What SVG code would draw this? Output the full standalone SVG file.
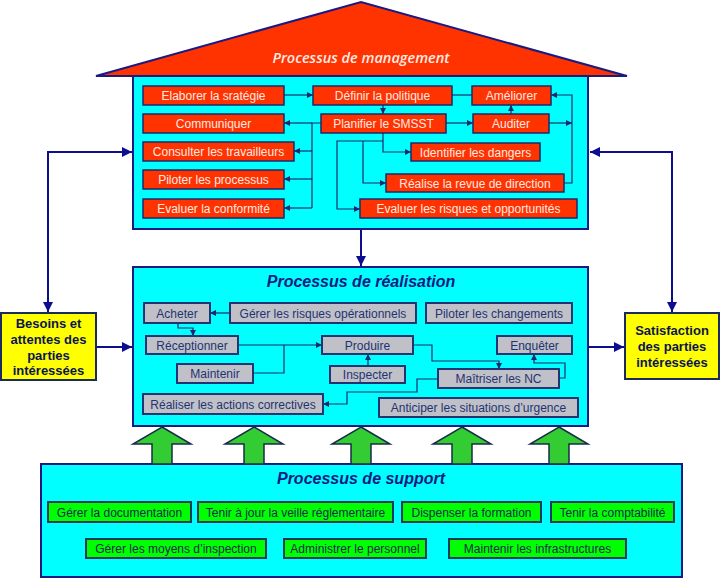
<svg xmlns="http://www.w3.org/2000/svg" width="721" height="579" viewBox="0 0 721 579">
<style>
.frame{fill:#00FFFF;stroke:#1A1A80;stroke-width:2}
.red rect{fill:#FF3300;stroke:#1A2A6A;stroke-width:1.5}
.red text{fill:#FFEAE4;font-family:"Liberation Sans",Arial,sans-serif;font-size:12px;text-anchor:middle}
.gray rect{fill:#C0C0C8;stroke:#1F3470;stroke-width:2}
.gray text{fill:#1F3470;font-family:"Liberation Sans",Arial,sans-serif;font-size:12px;text-anchor:middle}
.green rect{fill:#00FF00;stroke:#1F3A5A;stroke-width:2}
.green text{fill:#1A2A50;font-family:"Liberation Sans",Arial,sans-serif;font-size:12px;text-anchor:middle}
.title{fill:#0D1A80;font-family:"Liberation Sans",Arial,sans-serif;font-size:16px;font-weight:bold;font-style:italic;text-anchor:middle}
.side rect{fill:#FFFF00;stroke:#1A2A5A;stroke-width:2}
.side text{fill:#0A1450;font-family:"Liberation Sans",Arial,sans-serif;font-size:13px;font-weight:bold;text-anchor:middle}
.c{fill:none;stroke:#1A2A6A;stroke-width:1.2}
.cb{fill:none;stroke:#0D0D90;stroke-width:2}
.big{fill:#33CC33;stroke:#1A2A4A;stroke-width:1.5}
</style>
<defs>
<marker id="a" viewBox="0 0 10 10" refX="10" refY="5" markerWidth="6" markerHeight="6" markerUnits="userSpaceOnUse" orient="auto"><path d="M0,0L10,5L0,10z" fill="#1A2A6A"/></marker>
<marker id="b" viewBox="0 0 10 10" refX="10" refY="5" markerWidth="12" markerHeight="10" markerUnits="userSpaceOnUse" orient="auto"><path d="M0,0L10,5L0,10z" fill="#0D0D90"/></marker>
</defs>

<g id="roof">
<polygon points="96,76 361,2 627,76" fill="#FF3300" stroke="#1A1A80" stroke-width="2"/>
<text x="361" y="63" fill="#FFEAE4" font-family="'Open Sans','Liberation Sans',sans-serif" font-size="14.5" font-style="italic" font-weight="600" text-anchor="middle">Processus de management</text>
</g>

<g id="management">
<rect class="frame" x="133" y="76" width="455" height="153"/>
</g>
<g id="realisation">
<rect class="frame" x="133" y="267" width="455" height="159"/>
<text class="title" x="361" y="287">Processus de réalisation</text>
</g>
<g id="support">
<rect class="frame" x="41" y="464" width="641" height="113"/>
<text class="title" x="361" y="484">Processus de support</text>
</g>

<g id="connectors">
<!-- management -->
<path class="c" d="M284,95H313" marker-end="url(#a)"/>
<path class="c" d="M383,105V114" marker-end="url(#a)"/>
<path class="c" d="M452,95H472"/>
<path class="c" d="M321,123H312V208"/>
<path class="c" d="M312,123H284" marker-end="url(#a)"/>
<path class="c" d="M312,151H294" marker-end="url(#a)"/>
<path class="c" d="M312,179H284" marker-end="url(#a)"/>
<path class="c" d="M312,208H284" marker-end="url(#a)"/>
<path class="c" d="M446,123H473" marker-end="url(#a)"/>
<path class="c" d="M511,114V105" marker-end="url(#a)"/>
<path class="c" d="M549,123H572" marker-end="url(#a)"/>
<path class="c" d="M564,183H572V95H551" marker-end="url(#a)"/>
<path class="c" d="M383,133V152H411" marker-end="url(#a)"/>
<path class="c" d="M383,141H337V209H360" marker-end="url(#a)"/>
<path class="c" d="M363,141V183H386" marker-end="url(#a)"/>
<!-- management to realisation -->
<path class="cb" d="M361,230V266" marker-end="url(#b)"/>
<!-- side -->
<path class="cb" d="M96,347H132" marker-end="url(#b)"/>
<path class="cb" d="M588,347H624" marker-end="url(#b)"/>
<path class="cb" d="M48,200V152H132" marker-end="url(#b)"/>
<path class="cb" d="M48,200V312" marker-end="url(#b)"/>
<path class="cb" d="M672,200V152H590" marker-end="url(#b)"/>
<path class="cb" d="M672,200V312" marker-end="url(#b)"/>
<!-- realisation -->
<path class="c" d="M230,313H210" marker-end="url(#a)"/>
<path class="c" d="M178,323V328H193V336" marker-end="url(#a)"/>
<path class="c" d="M238,345H322" marker-end="url(#a)"/>
<path class="c" d="M253,373H284V345"/>
<path class="c" d="M368,366V354" marker-end="url(#a)"/>
<path class="c" d="M413,345H432V361H499V369" marker-end="url(#a)"/>
<path class="c" d="M559,378H565V363H534V354" marker-end="url(#a)"/>
<path class="c" d="M438,379H417V392H347V404H323" marker-end="url(#a)"/>
</g>

<g id="support-arrows">
<polygon class="big" points="162,427 191,444 172,444 172,464 152,464 152,444 133,444"/>
<polygon class="big" points="254,427 283,444 264,444 264,464 244,464 244,444 225,444"/>
<polygon class="big" points="361,427 390,444 371,444 371,464 351,464 351,444 332,444"/>
<polygon class="big" points="462,427 491,444 472,444 472,464 452,464 452,444 433,444"/>
<polygon class="big" points="559,427 588,444 569,444 569,464 549,464 549,444 530,444"/>
</g>

<g id="m1" class="red"><rect x="143" y="86" width="141" height="19"/><text x="213.5" y="100">Elaborer la sratégie</text></g>
<g id="m2" class="red"><rect x="313" y="86" width="139" height="19"/><text x="382.5" y="100">Définir la politique</text></g>
<g id="m3" class="red"><rect x="472" y="86" width="79" height="19"/><text x="511.5" y="100">Améliorer</text></g>
<g id="m4" class="red"><rect x="143" y="114" width="141" height="19"/><text x="213.5" y="128">Communiquer</text></g>
<g id="m5" class="red"><rect x="321" y="114" width="125" height="19"/><text x="383.5" y="128">Planifier le SMSST</text></g>
<g id="m6" class="red"><rect x="473" y="114" width="76" height="19"/><text x="511" y="128">Auditer</text></g>
<g id="m7" class="red"><rect x="143" y="142" width="151" height="19"/><text x="218.5" y="156">Consulter les travailleurs</text></g>
<g id="m8" class="red"><rect x="411" y="143" width="129" height="18"/><text x="475.5" y="156.5">Identifier les dangers</text></g>
<g id="m9" class="red"><rect x="143" y="170" width="141" height="19"/><text x="213.5" y="184">Piloter les processus</text></g>
<g id="m10" class="red"><rect x="386" y="174" width="178" height="18"/><text x="475" y="187.5">Réalise la revue de direction</text></g>
<g id="m11" class="red"><rect x="143" y="199" width="141" height="19"/><text x="213.5" y="213">Evaluer la conformité</text></g>
<g id="m12" class="red"><rect x="360" y="199" width="217" height="19"/><text x="468.5" y="213">Evaluer les risques et opportunités</text></g>

<g id="r1" class="gray"><rect x="144" y="303" width="66" height="20"/><text x="177" y="317.5">Acheter</text></g>
<g id="r2" class="gray"><rect x="230" y="303" width="186" height="20"/><text x="323" y="317.5">Gérer les risques opérationnels</text></g>
<g id="r3" class="gray"><rect x="426" y="303" width="146" height="20"/><text x="499" y="317.5">Piloter les changements</text></g>
<g id="r4" class="gray"><rect x="146" y="336" width="92" height="18"/><text x="192" y="349.5">Réceptionner</text></g>
<g id="r5" class="gray"><rect x="322" y="336" width="91" height="18"/><text x="367.5" y="349.5">Produire</text></g>
<g id="r6" class="gray"><rect x="497" y="336" width="75" height="18"/><text x="534.5" y="349.5">Enquêter</text></g>
<g id="r7" class="gray"><rect x="177" y="364" width="76" height="19"/><text x="215" y="378">Maintenir</text></g>
<g id="r8" class="gray"><rect x="330" y="366" width="75" height="17"/><text x="367.5" y="379">Inspecter</text></g>
<g id="r9" class="gray"><rect x="438" y="369" width="121" height="19"/><text x="498.5" y="383">Maîtriser les NC</text></g>
<g id="r10" class="gray"><rect x="143" y="394" width="180" height="20"/><text x="233" y="408.5">Réaliser les actions correctives</text></g>
<g id="r11" class="gray"><rect x="379" y="398" width="199" height="19"/><text x="478.5" y="412">Anticiper les situations d’urgence</text></g>

<g id="s1" class="green"><rect x="48" y="502" width="143" height="20"/><text x="119.5" y="516.5">Gérer la documentation</text></g>
<g id="s2" class="green"><rect x="198" y="502" width="195" height="20"/><text x="295.5" y="516.5">Tenir à jour la veille réglementaire</text></g>
<g id="s3" class="green"><rect x="402" y="502" width="139" height="20"/><text x="471.5" y="516.5">Dispenser la formation</text></g>
<g id="s4" class="green"><rect x="551" y="502" width="123" height="20"/><text x="612.5" y="516.5">Tenir la comptabilité</text></g>
<g id="s5" class="green"><rect x="86" y="539" width="180" height="19"/><text x="176" y="553">Gérer les moyens d’inspection</text></g>
<g id="s6" class="green"><rect x="284" y="539" width="142" height="19"/><text x="355" y="553">Administrer le personnel</text></g>
<g id="s7" class="green"><rect x="449" y="539" width="177" height="19"/><text x="537.5" y="553">Maintenir les infrastructures</text></g>

<g id="besoins" class="side"><rect x="1" y="313" width="95" height="67"/>
<text x="48.5" y="328">Besoins et</text><text x="48.5" y="344">attentes des</text><text x="48.5" y="360">parties</text><text x="48.5" y="375">intéressées</text></g>
<g id="satisfaction" class="side"><rect x="625" y="313" width="94" height="66"/>
<text x="672" y="335">Satisfaction</text><text x="672" y="351">des parties</text><text x="672" y="367">intéressées</text></g>
</svg>
